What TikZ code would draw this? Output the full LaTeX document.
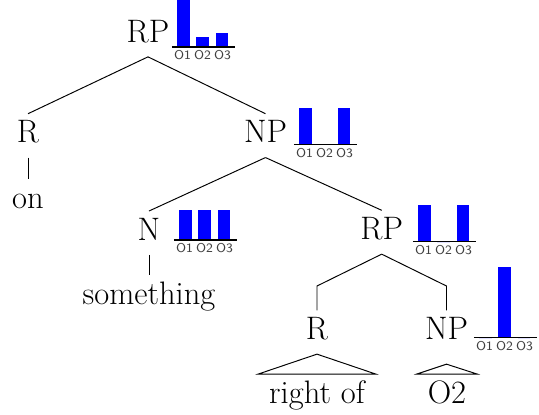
\documentclass[tikz,border=0pt]{standalone}
\tikzset{
  lbl/.style={font=\fontsize{18.5}{22}\selectfont, inner sep=0pt, inner xsep=6pt, text height=16.3pt, text depth=8.25pt, anchor=base},
  edge/.style={line width=0.55pt},
  bar/.style={fill=blue},
  axis/.style={line width=0.85pt},
  olbl/.style={font=\sffamily\fontsize{7.3}{8}\selectfont, text=black!75, inner sep=0pt}
}
\newcommand{\hist}[5]{%
  \foreach \h/\c in {#3/11.5,#4/30.5,#5/50} \fill[bar] (#1+\c-6.25,#2) rectangle ++(12.5,-\h);
  \draw[axis] (#1,#2) -- ++(63,0);
  \foreach \c/\t in {10.5/O1,30.5/O2,50.5/O3} \node[olbl] at (#1+\c,#2+8.5) {\t};
}
\begin{document}
\begin{tikzpicture}[x=0.02cm,y=-0.02cm]
\useasboundingbox (0,0) rectangle (539,414);

\node[lbl] (rp0) at (148,42) {RP};
\node[lbl] (r1) at (28,142.7) {R};
\node[lbl] (np1) at (265.5,142.7) {NP};
\node[lbl] (on) at (28,208) {on};
\node[lbl] (n2) at (149,240) {N};
\node[lbl] (rp2) at (381.7,239.3) {RP};
\node[lbl] (something) at (149,304.3) {something};
\node[lbl] (r3) at (317,339.3) {R};
\node[lbl] (np3) at (446.5,339.3) {NP};
\node[lbl] (rightof) at (317,403) {right of};
\node[lbl] (o2) at (447,403) {O2};
\coordinate (bend) at (0,286);
\coordinate (np3roof) at ([yshift=-5.7pt]np3.south);

\draw[edge] (rp0.south) -- (r1.north);
\draw[edge] (rp0.south) -- (np1.north);
\draw[edge] (r1.south) -- (on.north);
\draw[edge] (np1.south) -- (n2.north);
\draw[edge] (np1.south) -- (rp2.north);
\draw[edge] (n2.south) -- (something.north);
\draw[edge] (rp2.south) -- (r3.north |- bend) -- (r3.north);
\draw[edge] (rp2.south) -- (np3.north |- bend) -- (np3.north);
\draw[edge] (r3.south) -- (rightof.north west) -- (rightof.north east) -- cycle;
\draw[edge] (np3roof) -- (o2.north west) -- (o2.north east) -- cycle;

\hist{172}{47}{47}{10}{14}
\hist{294}{144.3}{36.3}{0}{36.3}
\hist{174}{240}{30}{30}{30}
\hist{413}{241.7}{36.7}{0}{36.7}
\hist{474}{337.7}{0}{70.4}{0}
\end{tikzpicture}
\end{document}
